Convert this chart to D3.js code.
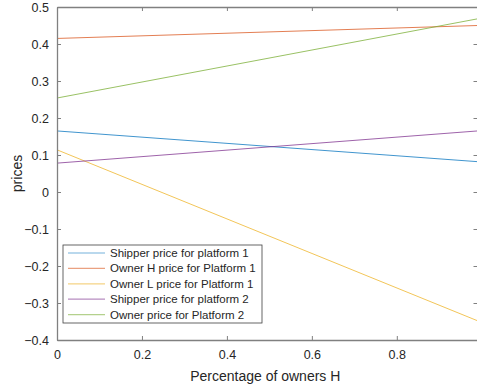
<!DOCTYPE html>
<html>
<head>
<meta charset="utf-8">
<script src="https://cdn.jsdelivr.net/npm/d3@7"></script>
<style>
  body { margin: 0; background: #fff; }
  svg { display: block; font-family: "Liberation Sans", Arial, sans-serif; }
</style>
</head>
<body>
<svg id="chart" width="477" height="389"></svg>
<script>
// data: each series is a straight line from x=0 to x=0.99
var xValues = [0, 0.99];
var seriesNames = [
  "Shipper price for platform 1",
  "Owner H price for Platform 1",
  "Owner L price for Platform 1",
  "Shipper price for platform 2",
  "Owner price for Platform 2"
];
var shipperP1 = [0.165, 0.082];
var ownerHP1 = [0.415, 0.450];
var ownerLP1 = [0.114, -0.348];
var shipperP2 = [0.078, 0.165];
var ownerP2 = [0.254, 0.468];
var xTicks = [0, 0.2, 0.4, 0.6, 0.8];
var yTicks = [-0.4, -0.3, -0.2, -0.1, 0, 0.1, 0.2, 0.3, 0.4, 0.5];

var colors = ["#0072BD", "#D95319", "#EDB120", "#7E2F8E", "#77AC30"];

var svg = d3.select("#chart");
// plot box (right edge sits just past the window, like the reference)
var plotLeft = 57, plotRight = 477.5, plotTop = 7, plotBottom = 340;

var x = d3.scaleLinear().domain([0, 0.99]).range([plotLeft, plotRight]);
var y = d3.scaleLinear().domain([-0.4, 0.5]).range([plotBottom, plotTop]);

var axisColor = "#262626";

// lines
var allSeries = [shipperP1, ownerHP1, ownerLP1, shipperP2, ownerP2];
var line = d3.line()
  .x(function(d, i) { return x(xValues[i]); })
  .y(function(d) { return y(d); });

svg.append("g").selectAll("path")
  .data(allSeries)
  .enter().append("path")
    .attr("d", line)
    .attr("fill", "none")
    .attr("stroke", function(d, i) { return colors[i]; })
    .attr("stroke-opacity", 0.75)
    .attr("stroke-width", 1);

// axes (ticks pointing inward, box on)
function styleAxis(g) {
  g.selectAll("path").attr("stroke", "#808080");
  g.selectAll("line").attr("stroke", "#808080");
  g.selectAll("text").attr("fill", axisColor).style("font-size", "12.5px");
}

var fmt = function(d) { return d === 0 ? "0" : d3.format(".1f")(d); };

var xAxis = d3.axisBottom(x).tickValues(xTicks).tickSizeInner(-4).tickSizeOuter(0)
  .tickPadding(10).tickFormat(fmt);
svg.append("g")
  .attr("transform", "translate(0," + plotBottom + ")")
  .call(xAxis).call(styleAxis);

var xAxisTop = d3.axisTop(x).tickValues(xTicks).tickSizeInner(-4).tickSizeOuter(0).tickFormat("");
svg.append("g")
  .attr("transform", "translate(0," + plotTop + ")")
  .call(xAxisTop).call(styleAxis);

var yAxis = d3.axisLeft(y).tickValues(yTicks).tickSizeInner(-4).tickSizeOuter(0)
  .tickPadding(8).tickFormat(fmt);
svg.append("g")
  .attr("transform", "translate(" + plotLeft + ",0)")
  .call(yAxis).call(styleAxis);

var yAxisRight = d3.axisRight(y).tickValues(yTicks).tickSizeInner(-4).tickSizeOuter(0).tickFormat("");
svg.append("g")
  .attr("transform", "translate(" + plotRight + ",0)")
  .call(yAxisRight).call(styleAxis);

svg.selectAll(".domain").attr("stroke-width", 1.3);

// axis labels
svg.append("text")
  .attr("x", (plotLeft + plotRight) / 2 - 2)
  .attr("y", 381)
  .attr("text-anchor", "middle")
  .attr("fill", axisColor)
  .style("font-size", "14px")
  .text("Percentage of owners H");

svg.append("text")
  .attr("transform", "translate(22," + (plotTop + plotBottom) / 2 + ") rotate(-90)")
  .attr("text-anchor", "middle")
  .attr("fill", axisColor)
  .style("font-size", "14px")
  .text("prices");

// legend
var legend = svg.append("g").attr("transform", "translate(63,245)");
legend.append("rect")
  .attr("width", 199)
  .attr("height", 78)
  .attr("fill", "#fff")
  .attr("stroke", "#404040")
  .attr("stroke-width", 0.8);

var items = legend.selectAll("g.item")
  .data(seriesNames)
  .enter().append("g")
    .attr("class", "item")
    .attr("transform", function(d, i) { return "translate(0," + (8 + i * 15.4) + ")"; });

items.append("line")
  .attr("x1", 5).attr("x2", 42)
  .attr("stroke", function(d, i) { return colors[i]; })
  .attr("stroke-opacity", 0.55)
  .attr("stroke-width", 1.2);

items.append("text")
  .attr("x", 47)
  .attr("dy", "0.35em")
  .attr("fill", axisColor)
  .style("font-size", "11.5px")
  .text(function(d) { return d; });
</script>
</body>
</html>
